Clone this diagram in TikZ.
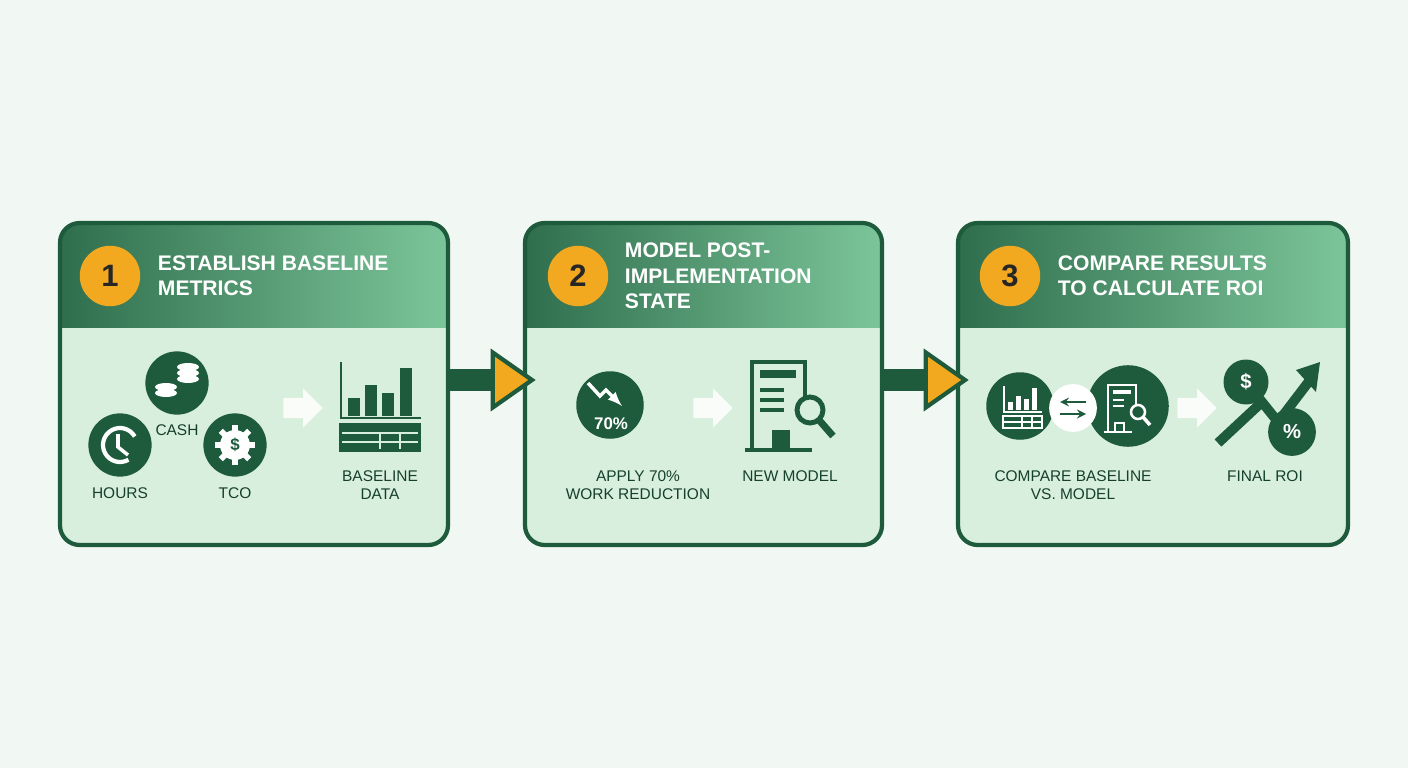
\documentclass[tikz,border=0pt]{standalone}
\usepackage{fontspec}
\setmainfont{Liberation Sans}
\usetikzlibrary{shapes.geometric,shapes.arrows,positioning}
\definecolor{dgreen}{HTML}{1E5B3C}
\definecolor{hgreenL}{HTML}{2F6E4D}
\definecolor{hgreenR}{HTML}{7CC59A}
\definecolor{body}{HTML}{D9EFDD}
\definecolor{bg}{HTML}{F1F7F2}
\definecolor{amber}{HTML}{F2A91F}
\tikzset{
  panel/.style={draw=dgreen, line width=3pt, rounded corners=14pt},
  num/.style={circle, fill=amber, minimum size=43pt, inner sep=0pt, font=\fontsize{22}{22}\selectfont\bfseries, text=black!85},
  title/.style={anchor=west, align=left, text=white, font=\fontsize{15}{18}\selectfont\bfseries},
  label/.style={align=center, text=dgreen!70!black, font=\fontsize{11}{13}\selectfont},
  icon/.style={circle, fill=dgreen, inner sep=0pt},
  gate/.style={isosceles triangle, isosceles triangle apex angle=70, fill=amber, draw=dgreen, line width=3pt, minimum height=28pt, inner sep=0pt},
  fade/.style={single arrow, fill=white, opacity=.85, minimum height=28pt, minimum width=28pt, single arrow head extend=5pt, inner xsep=0pt, inner ysep=5pt},
}
\begin{document}
\begin{tikzpicture}[x=0.025cm, y=-0.025cm]
\fill[bg] (0,0) rectangle (1408,768);
\useasboundingbox (0,0) rectangle (1408,768);

% panels
\foreach \a/\b/\n in {60/448/p1, 525/882/p2, 958/1348/p3} {
  \begin{scope}
    \clip[rounded corners=14pt] (\a,223) rectangle (\b,545);
    \fill[body] (\a,223) rectangle (\b,545);
    \shade[left color=hgreenL, right color=hgreenR] (\a,223) rectangle (\b,327);
  \end{scope}
  \draw[panel] (\a,223) rectangle (\b,545);
  \node[inner sep=0pt, minimum width={(\b-\a)*0.025cm}, minimum height=8cm] (\n) at ({(\a+\b)/2},384) {};
}

% headers
\node[num] (n1) at (110,276) {1};
\node[title] (t1) at (153,276) {ESTABLISH BASELINE\\METRICS};
\node[num] (n2) at (578,276) {2};
\node[title] (t2) at (620,276) {MODEL POST-\\IMPLEMENTATION\\STATE};
\node[num] (n3) at (1010,276) {3};
\node[title] (t3) at (1053,276) {COMPARE RESULTS\\TO CALCULATE ROI};

% step arrows
\node[gate] (s1) at (507,380) {};
\node[gate] (s2) at (940,380) {};
\draw[dgreen, line width=15pt] (p1.east |- s1) -- (s1.west);
\draw[dgreen, line width=15pt] (p2.east |- s2) -- (s2.west);

% panel 1 icons
\node[icon, minimum size=45pt] (cash) at (177,383) {};
\foreach \y in {0,6,12} \fill[white] (188,{367+\y}) ellipse (11 and 4);
\foreach \y in {0,6} \fill[white] (166,{387+\y}) ellipse (11 and 4);
\node[icon, minimum size=45pt] (hours) at (120,445) {};
\draw[white, line width=3pt] (120,445) ++(60:17) arc (60:330:17);
\draw[white, line width=2.5pt] (118,434) -- (118,447) -- (128,455);
\node[icon, minimum size=45pt] (tco) at (235,445) {};
\foreach \k in {0,45,...,315} \fill[white, rotate around={\k:(235,445)}] (232,425) rectangle (238,433);
\fill[white] (235,445) circle (15);
\node[text=dgreen, font=\bfseries\large] at (235,445) {\$};
\node[label] at (177,430) {CASH};
\node[label] at (120,493) {HOURS};
\node[label] at (235,493) {TCO};
\node[fade] (f1) at (298,408) {};
% baseline chart
\draw[dgreen, line width=2pt] (341,362) -- (341,418) -- (421,418);
\foreach \x/\h in {348/18, 365/31, 382/23, 400/48} \fill[dgreen] (\x,416) rectangle ++(12,-\h);
\fill[dgreen] (339,423) rectangle (421,452);
\foreach \y in {433,442} \draw[body, line width=1.5pt] (342,\y) -- (418,\y);
\foreach \x in {380,400} \draw[body, line width=1.5pt] (\x,433) -- (\x,449);
\node[label] at (380,485) {BASELINE\\DATA};

% panel 2 icons
\node[icon, minimum size=48pt] (cut) at (610,405) {};
\draw[white, line width=2.5pt, ->, >=latex] (588,383) -- (600,396) -- (606,390) -- (622,406);
\node[white, font=\bfseries\large] at (611,424) {70\%};
\node[label] at (638,485) {APPLY 70\%\\WORK REDUCTION};
\node[fade] (f2) at (708,408) {};
\draw[dgreen, line width=3pt] (752,448) -- (752,362) -- (805,362) -- (805,400);
\fill[dgreen] (760,370) rectangle (796,378);
\foreach \y in {388,398,408} \fill[dgreen] (760,\y) rectangle (784,{\y+4});
\fill[dgreen] (772,430) rectangle (790,450);
\draw[dgreen, line width=3pt] (745,450) -- (812,450);
\draw[dgreen, line width=3.5pt] (810,410) circle (13);
\draw[dgreen, line width=5pt] (819,420) -- (833,436);
\node[label] at (790,476) {NEW MODEL};

% panel 3 icons
\node[icon, minimum size=48pt] (base) at (1020,406) {};
\draw[white, line width=1.2pt] (1004,386) -- (1004,412) -- (1042,412);
\foreach \x/\h in {1008/8, 1016/14, 1024/11, 1032/22} \fill[white] (\x,410) rectangle ++(5,-\h);
\draw[white, line width=1.2pt] (1003,416) rectangle (1042,428) (1003,422) -- (1042,422) (1022,416) -- (1022,428) (1032,416) -- (1032,428);
\node[icon, minimum size=58pt] (model) at (1128,406) {};
\draw[white, line width=1.5pt] (1108,432) -- (1108,385) -- (1136,385) -- (1136,405);
\fill[white] (1113,390) rectangle (1131,394);
\foreach \y in {399,405} \fill[white] (1113,\y) rectangle (1124,{\y+2});
\draw[white, line width=1.5pt] (1115,432) -- (1115,423) -- (1124,423) -- (1124,432) (1104,432) -- (1132,432);
\draw[white, line width=1.8pt] (1138,412) circle (7);
\draw[white, line width=2.5pt] (1143,417) -- (1150,425);
\node[circle, fill=white, minimum size=34pt, inner sep=0pt] (swap) at (1073,408) {};
\draw[dgreen, line width=1.8pt, ->, >=stealth] (1086,402) -- (1060,402);
\draw[dgreen, line width=1.8pt, ->, >=stealth] (1060,414) -- (1086,414);
\node[label] at (1073,485) {COMPARE BASELINE\\VS. MODEL};
\node[fade] (f3) at (1192,408) {};
% final roi
\node[icon, minimum size=32pt] (dollar) at (1246,382) {};
\node[white, font=\bfseries\Large] at (1246,382) {\$};
\draw[dgreen, line width=7pt] (1218,443) -- (1262,402) -- (1278,422) -- (1310,380);
\fill[dgreen] (1320,362) -- (1296,370) -- (1316,392) -- cycle;
\node[icon, minimum size=34pt] (pct) at (1292,432) {};
\node[white, font=\bfseries\Large] at (1292,432) {\%};
\node[label] at (1265,476) {FINAL ROI};
\end{tikzpicture}
\end{document}
